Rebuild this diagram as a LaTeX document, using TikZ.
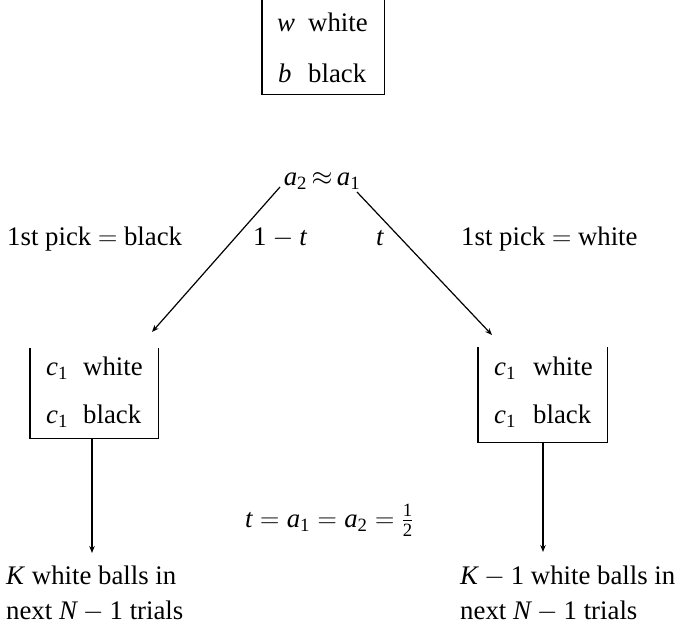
\RequirePackage{fix-cm}
\documentclass[tikz,border=0pt]{standalone}
\usepackage{amsmath}
\usepackage{fontspec}
\setmainfont{Liberation Serif}
\usetikzlibrary{arrows.meta}
\newcommand{\mv}[1]{\textit{#1}}
\begin{document}
\begin{tikzpicture}[x=1pt,y=-1pt,
  every node/.style={font=\fontsize{26.8}{30}\selectfont, inner sep=0pt},
  lbl/.style={anchor=base west},
  arr/.style={-{Stealth[length=7pt,width=5.5pt]}, line width=1.2pt},
  boxline/.style={line width=1.3pt},
  frame/.style={anchor=north west}]
\useasboundingbox (0,0) rectangle (680,626);

% top box
\node[frame, minimum width=122pt, minimum height=94pt] (top) at (262,0) {};
\draw[boxline] (top.north west) -- (top.south west) -- (top.south east) -- (top.north east);
\node[lbl] (tw) at (277,32) {\makebox[31pt][l]{\mv{w}}white};
\node[lbl] (tb) at (278,82) {\makebox[30pt][l]{\mv{b}}black};

% root
\node[anchor=base] (root) at (322,185) {$\mv{a}_{\text{2}} \mskip-2mu\approx\mskip-2mu \mv{a}_{\text{1}}$};

% left box
\node[frame, minimum width=128pt, minimum height=90pt] (lbox) at (30,348) {};
\draw[boxline] (lbox.north west) -- (lbox.south west) -- (lbox.south east) -- (lbox.north east);
\node[lbl] (lw) at (46,375) {\makebox[37pt][l]{$\mv{c}_{\text{1}}$}white};
\node[lbl] (lk) at (46,423) {\makebox[37pt][l]{$\mv{c}_{\text{1}}$}black};

% right box
\node[frame, minimum width=129pt, minimum height=95pt] (rbox) at (478,347) {};
\draw[boxline] (rbox.north west) -- (rbox.south west) -- (rbox.south east) -- (rbox.north east);
\node[lbl] (rw) at (494,375) {\makebox[39pt][l]{$\mv{c}_{\text{1}}$}white};
\node[lbl] (rk) at (494,423) {\makebox[39pt][l]{$\mv{c}_{\text{1}}$}black};

% branch labels
\node[lbl] (lpick) at (7,245) {1st pick $=$ black};
\node[lbl] (lprob) at (253,245) {$\text{1} - \mv{t}$};
\node[lbl] (rprob) at (376,245) {\mv{t}};
\node[lbl] (rpick) at (461,245) {1st pick $=$ white};

% middle equation
\node[lbl] (eq) at (245,527) {$\mv{t} = \mv{a}_{\text{1}} = \mv{a}_{\text{2}} = \tfrac{\text{1}}{\text{2}}$};

% results
\node[lbl] (lres1) at (6,584) {\mv{K} white balls in};
\node[lbl] (lres2) at (6,619) {next $\mv{N} - \text{1}$ trials};
\node[lbl] (rres1) at (460,584) {$\mv{K} - \text{1}$ white balls in};
\node[lbl] (rres2) at (460,619) {next $\mv{N} - \text{1}$ trials};

% connectors
\coordinate (ls) at (280,187);
\coordinate (rs) at (357,192);
\coordinate (le) at (152,332);
\coordinate (re) at (492,335);
\coordinate (ld) at (92,553);
\coordinate (rd) at (543,552);
\draw[arr] (ls) -- (le);
\draw[arr] (rs) -- (re);
\draw[arr] (lbox.south -| ld) -- (ld);
\draw[arr] (rbox.south -| rd) -- (rd);
\end{tikzpicture}
\end{document}
